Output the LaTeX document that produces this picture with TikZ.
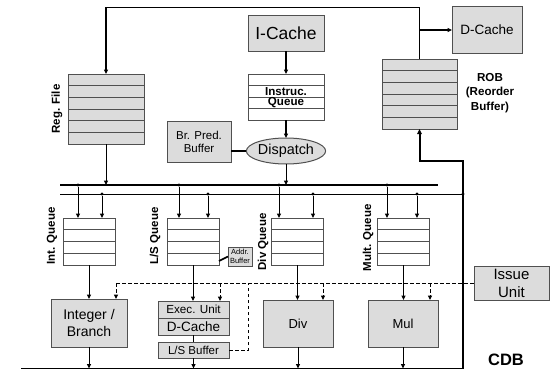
\documentclass[tikz,border=0pt]{standalone}
\usepackage{fontspec}
\setmainfont{Liberation Sans}
\usetikzlibrary{arrows.meta,shapes.geometric,calc}
\definecolor{boxfill}{RGB}{220,220,220}
\definecolor{boxline}{RGB}{80,80,80}
\newcommand{\fsz}[2]{\fontsize{#1}{#2}\selectfont}
\newcommand{\stackrows}[3]{\foreach \i in {#3}{\draw[rowline] ($(#1.north west)!\i/#2!(#1.south west)$) -- ($(#1.north east)!\i/#2!(#1.south east)$);}}
\tikzset{
  every node/.style={inner sep=0pt, outer sep=0pt},
  gbox/.style={draw=boxline, fill=boxfill, line width=1pt, rectangle, align=center},
  wbox/.style={draw=boxline, fill=white, line width=1pt, rectangle},
  rowline/.style={draw=boxline, line width=1pt},
  tip/.style={-{Triangle[length=4.5pt,width=4pt]}},
  conn/.style={line width=1pt, tip},
  bconn/.style={line width=1.6pt, tip},
  dashline/.style={line width=1pt, dash pattern=on 3.5pt off 2.5pt},
  jdot/.style={circle, fill=black, minimum size=3.2pt},
  vlabel/.style={rotate=90, font=\bfseries\fsz{11.5}{13}},
}
\begin{document}
\begin{tikzpicture}[x=1pt,y=-1pt]
\useasboundingbox (0,0) rectangle (550,370);

% ---------- upper part ----------
\node[gbox, minimum width=76pt, minimum height=70pt] (rf) at (106,109) {};
\stackrows{rf}{6}{1,...,5}
\node[vlabel] (rfl) at (57,109) {Reg. File};

\node[gbox, minimum width=75pt, minimum height=70pt] (rob) at (419.5,94) {};
\stackrows{rob}{6}{1,...,5}
\node[font=\bfseries\fsz{11.6}{14.5}, align=center] (robl) at (490,93) {ROB\\(Reorder\\Buffer)};

\node[gbox, minimum width=70pt, minimum height=47pt, font=\fsz{13.5}{16}] (dc) at (487,29.5) {D-Cache};
\node[gbox, minimum width=76pt, minimum height=36pt, font=\fsz{17.5}{20}] (ic) at (286,33) {I-Cache};

\node[wbox, minimum width=76pt, minimum height=46pt] (iq) at (286,97) {};
\stackrows{iq}{4}{1,2,3}
\node[font=\bfseries\fsz{11.6}{13}] (iqa) at (286,91.5) {Instruc.};
\node[font=\bfseries\fsz{11.6}{13}] (iqb) at (286,103) {Queue};

\node[gbox, minimum width=64pt, minimum height=41pt, font=\fsz{11.5}{13}] (bp) at (199,141.5) {Br. Pred.\\Buffer};
\node[ellipse, draw=boxline, fill=boxfill, line width=1pt, minimum width=76pt, minimum height=26pt, font=\fsz{14.4}{16}] (disp) at (286,151) {Dispatch};

% top loop from ROB
\coordinate (tl) at (106,7.5);
\coordinate (brn) at (419.5,30);
\draw[line width=1.2pt, tip] (rob.north) |- (tl) -- (rf.north);
\draw[line width=1.2pt, tip] (brn) -- (dc.west |- brn);

\draw[bconn] (ic.south) -- (iq.north);
\draw[bconn] (iq.south) -- (disp.north);
\draw[line width=2pt] (bp.east |- disp.west) -- (disp.west);

% ---------- buses ----------
\coordinate (tbL) at (60,185);
\coordinate (tbR) at (438,185);
\coordinate (nbL) at (60,194);
\coordinate (nbR) at (463,194);
\draw[line width=2.6pt] (tbL) -- (tbR);
\draw[line width=1pt] (nbL) -- (nbR);
\node[jdot] (nbj) at (nbR) {};

\draw[conn] (rf.south) -- (rf.south |- tbL);
\draw[conn] (disp.south) -- (disp.south |- tbL);

% ---------- queues ----------
\foreach \n/\x in {qi/89, ql/193, qd/297.5, qm/403.5}{
  \node[wbox, minimum width=52pt, minimum height=47pt] (\n) at (\x,241.5) {};
  \stackrows{\n}{4}{1,2,3}
}
\node[vlabel] (qil) at (52,236) {Int. Queue};
\node[vlabel] (qll) at (155,236) {L/S Queue};
\node[vlabel] (qdl) at (263,242) {Div Queue};
\node[vlabel] (qml) at (368,238) {Mult. Queue};

\foreach \n/\a/\b in {qi/78/102, ql/179/208, qd/279/313, qm/387/417}{
  \node[jdot] (\n ta) at (\a,185) {};
  \node[jdot] (\n tb) at (\b,194) {};
  \draw[conn] (\n ta) -- (\n ta |- \n.north);
  \draw[conn] (\n tb) -- (\n tb |- \n.north);
}

\node[gbox, minimum width=24pt, minimum height=19pt, font=\fsz{7.5}{9}] (ab) at (240,256.5) {Addr.\\Buffer};
\draw[line width=1.6pt] (219,261) -- (ab.west);

% ---------- units ----------
\node[gbox, minimum width=75pt, minimum height=34pt, font=\fsz{15}{18}] (iu) at (511.5,283) {Issue\\Unit};
\node[gbox, minimum width=76pt, minimum height=48pt, font=\fsz{14}{16.5}] (ib) at (89,323) {Integer /\\Branch};
\node[gbox, minimum width=71pt, minimum height=17pt, font=\fsz{11.7}{13}] (ex) at (193.5,309.5) {Exec. Unit};
\node[gbox, minimum width=71pt, minimum height=17pt, font=\fsz{13.5}{15}] (dc2) at (193.5,326.5) {D-Cache};
\node[gbox, minimum width=71pt, minimum height=16pt, font=\fsz{11.5}{13}] (lsb) at (193.5,350) {L/S Buffer};
\node[gbox, minimum width=70pt, minimum height=47pt, font=\fsz{13}{15}] (dv) at (298,323.5) {Div};
\node[gbox, minimum width=70pt, minimum height=47pt, font=\fsz{13}{15}] (ml) at (403,323.5) {Mul};
\draw[line width=1pt] (dc2.south) -- (lsb.north);

% queue -> unit
\draw[conn] (qi.south) -- (qi.south |- ib.north);
\draw[conn] (ql.south) -- (ql.south |- ex.north);
\draw[conn] (qd.south) -- (qd.south |- dv.north);
\draw[conn] (qm.south) -- (qm.south |- ml.north);

% issue unit dashed control
\coordinate (dl) at (116,283);
\coordinate (dcx) at (220,283);
\coordinate (ddx) at (323,283);
\coordinate (dmx) at (430,283);
\coordinate (dlsb) at (248,283);
\draw[dashline] (dl) -- (iu.west);
\draw[dashline, tip] (dl) -- (dl |- ib.north);
\draw[dashline, tip] (dcx) -- (dcx |- ex.north);
\draw[dashline, tip] (ddx) -- (ddx |- dv.north);
\draw[dashline, tip] (dmx) -- (dmx |- ml.north);
\draw[dashline] (lsb.east) -| (dlsb);

% ---------- CDB ----------
\coordinate (cdbL) at (21,368.5);
\coordinate (cdbR) at (463,368.5);
\coordinate (rb) at (463,161);
\draw[line width=1.6pt] (cdbL) -- (cdbR);
\draw[line width=2pt, -{Triangle[length=5pt,width=4.5pt]}] (cdbR) -- (rb) -| (rob.south);
\node[font=\bfseries\fsz{16.5}{18}] (cdbl) at (506,359.5) {CDB};

\draw[conn] (ib.south) -- (ib.south |- cdbL);
\draw[conn] (lsb.south) -- (lsb.south |- cdbL);
\draw[conn] (dv.south) -- (dv.south |- cdbL);
\draw[conn] (ml.south) -- (ml.south |- cdbL);
\end{tikzpicture}
\end{document}
